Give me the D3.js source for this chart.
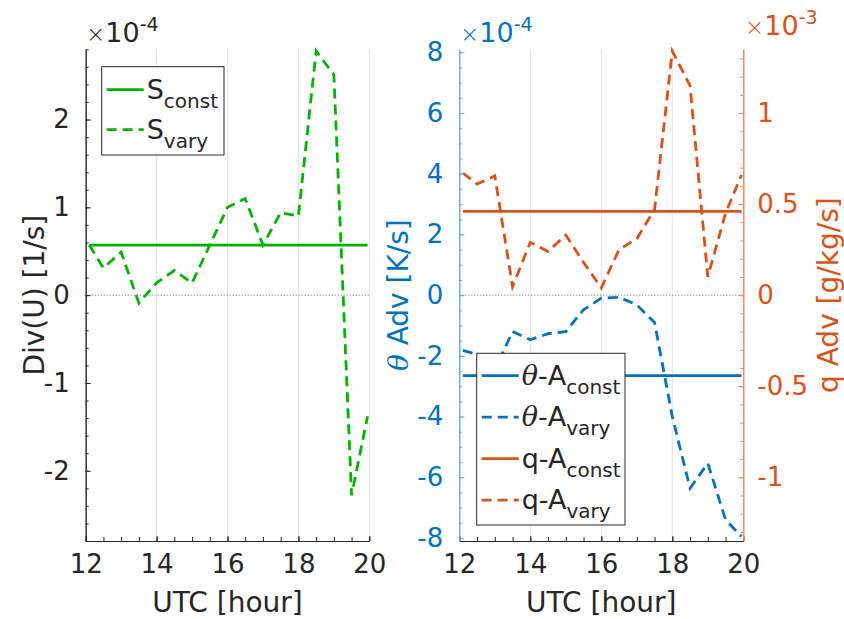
<!DOCTYPE html>
<html>
<head>
<meta charset="utf-8">
<script src="https://cdn.jsdelivr.net/npm/d3@7"></script>
<style>
  body { margin: 0; background: #fff; }
  text { font-family: "DejaVu Sans", sans-serif; }
</style>
</head>
<body>
<svg id="fig" width="844" height="619"></svg>
<script>
// Half-hourly samples (UTC hour)
const hours = [12.1, 12.5, 13, 13.5, 14, 14.5, 15, 15.5, 16, 16.5, 17, 17.5, 18, 18.5, 19, 19.5, 19.95];

// Divergence, units of 1e-4 1/s
const divVary = [0.57, 0.31, 0.49, -0.09, 0.14, 0.28, 0.14, 0.57, 1.0, 1.1, 0.57, 0.94, 0.9, 2.78, 2.51, -2.28, -1.38];
const divConst = 0.57;

// Potential-temperature advection, units of 1e-4 K/s
const thetaVary = [-1.82, -1.95, -2.45, -1.2, -1.47, -1.27, -1.2, -0.48, -0.1, -0.07, -0.32, -0.9, -4.0, -6.36, -5.54, -7.4, -7.95];
const thetaConst = -2.65;

// Moisture advection, units of 1e-3 g/kg/s
const qVary = [0.67, 0.61, 0.655, 0.047, 0.29, 0.24, 0.33, 0.18, 0.04, 0.25, 0.31, 0.47, 1.34, 1.15, 0.10, 0.45, 0.66];
const qConst = 0.46;

// Tick labels
const hourTicks = [12, 14, 16, 18, 20];
const divTicks = [-2, -1, 0, 1, 2];
const thetaTicks = [-8, -6, -4, -2, 0, 2, 4, 6, 8];
const qTicks = [-1, -0.5, 0, 0.5, 1];

const C_AX = "#262626", C_GREEN = "#00b300", C_BLUE = "#0072BD", C_ORANGE = "#D95319", C_GRID = "#e3e3e3";
const FS_TICK = 26, FS_LABEL = 28, FS_LEG = 27, FS_SUB = 20;
const DASH = "10,6";

const svg = d3.select("#fig");
const plotTop = 49.3, plotBottom = 541;

const panels = {
  left: { x0: 85.7, x1: 369.3 },
  right: { x0: 459.3, x1: 743.3 }
};

const xL = d3.scaleLinear().domain([12, 20]).range([panels.left.x0, panels.left.x1]);
const xR = d3.scaleLinear().domain([12, 20]).range([panels.right.x0, panels.right.x1]);
const yDiv = d3.scaleLinear().domain([-2.8, 2.8]).range([plotBottom, plotTop]);
const yTheta = d3.scaleLinear().domain([-8.1, 8.1]).range([plotBottom, plotTop]);
const yQ = d3.scaleLinear().domain([-1.35, 1.35]).range([plotBottom, plotTop]);

const fmt = d => (d < 0 ? "-" : "") + String(Math.abs(d));

function grid(x) {
  svg.append("g").selectAll("line").data([14, 16, 18, 20]).join("line")
    .attr("x1", d => x(d)).attr("x2", d => x(d))
    .attr("y1", plotTop).attr("y2", plotBottom)
    .attr("stroke", C_GRID).attr("stroke-width", 1);
}

function zeroLine(x, y) {
  svg.append("line")
    .attr("x1", x.range()[0]).attr("x2", x.range()[1])
    .attr("y1", y(0)).attr("y2", y(0))
    .attr("stroke", "#555").attr("stroke-width", 0.9).attr("stroke-dasharray", "1,2");
}

function styleAxis(g, color, tickColor) {
  g.select(".domain").attr("stroke", color).attr("stroke-width", 1);
  g.selectAll(".tick line").attr("stroke", color);
  g.selectAll(".tick text").attr("fill", tickColor).attr("font-size", FS_TICK)
    .attr("font-family", "DejaVu Sans");
}

function xAxis(x) {
  const minor = svg.append("g").attr("transform", `translate(0,${plotBottom})`)
    .call(d3.axisBottom(x).tickValues(d3.range(12, 20.01, 0.5)).tickFormat("").tickSizeInner(-4).tickSizeOuter(0));
  styleAxis(minor, C_AX, C_AX);
  const major = svg.append("g").attr("transform", `translate(0,${plotBottom})`)
    .call(d3.axisBottom(x).tickValues(hourTicks).tickFormat(d3.format("d")).tickSizeInner(-5).tickSizeOuter(0).tickPadding(14));
  styleAxis(major, C_AX, C_AX);
  major.selectAll(".tick text").attr("dy", "0.71em");
}

function yAxisLeft(xpos, y, ticks, minorStep, color, tickColor) {
  const [lo, hi] = y.domain();
  const mt = d3.range(Math.ceil(lo / minorStep - 1e-9) * minorStep, hi + 1e-9, minorStep);
  const minor = svg.append("g").attr("transform", `translate(${xpos},0)`)
    .call(d3.axisLeft(y).tickValues(mt).tickFormat("").tickSizeInner(-3).tickSizeOuter(0));
  styleAxis(minor, color, tickColor);
  const major = svg.append("g").attr("transform", `translate(${xpos},0)`)
    .call(d3.axisLeft(y).tickValues(ticks).tickFormat(fmt).tickSizeInner(-5).tickSizeOuter(0).tickPadding(16));
  styleAxis(major, color, tickColor);
}

function yAxisRight(xpos, y, ticks, minorStep, color, tickColor) {
  const [lo, hi] = y.domain();
  const mt = d3.range(Math.ceil(lo / minorStep - 1e-9) * minorStep, hi + 1e-9, minorStep);
  const minor = svg.append("g").attr("transform", `translate(${xpos},0)`)
    .call(d3.axisRight(y).tickValues(mt).tickFormat("").tickSizeInner(-3).tickSizeOuter(0));
  styleAxis(minor, color, tickColor);
  const major = svg.append("g").attr("transform", `translate(${xpos},0)`)
    .call(d3.axisRight(y).tickValues(ticks).tickFormat(fmt).tickSizeInner(-5).tickSizeOuter(0).tickPadding(14));
  styleAxis(major, color, tickColor);
}

function series(x, y, values, color, dashed) {
  const line = d3.line().x((d, i) => x(hours[i])).y(d => y(d));
  svg.append("path").datum(values)
    .attr("d", line).attr("fill", "none")
    .attr("stroke", color).attr("stroke-width", 2.8)
    .attr("stroke-dasharray", dashed ? DASH : null);
}

function exponent(xpos, ybase, power, color) {
  const t = svg.append("text").attr("x", xpos).attr("y", ybase).attr("fill", color).attr("font-size", 27);
  t.append("tspan").text("×").attr("font-weight", "lighter").attr("font-size", 23);
  t.append("tspan").text("10");
  t.append("tspan").text(power).attr("font-size", 19).attr("dy", -11);
}

function yLabel(xpos, ycenter, parts, color) {
  const t = svg.append("text")
    .attr("transform", `translate(${xpos},${ycenter}) rotate(-90)`)
    .attr("text-anchor", "middle").attr("fill", color).attr("font-size", FS_LABEL);
  parts.forEach(p => {
    const s = t.append("tspan").text(p.t);
    if (p.italic) s.attr("font-style", "italic").attr("font-family", "DejaVu Serif");
  });
}

function xLabel(x) {
  const [a, b] = x.range();
  svg.append("text").attr("x", (a + b) / 2).attr("y", 612)
    .attr("text-anchor", "middle").attr("fill", C_AX).attr("font-size", FS_LABEL)
    .text("UTC [hour]");
}

function legend(box, entries) {
  svg.append("rect").attr("x", box.x).attr("y", box.y).attr("width", box.w).attr("height", box.h)
    .attr("fill", "#fff").attr("stroke", C_AX).attr("stroke-width", 1);
  entries.forEach((e, i) => {
    const cy = box.y + box.first + i * box.step;
    svg.append("line")
      .attr("x1", box.x + 5).attr("x2", box.x + 42).attr("y1", cy).attr("y2", cy)
      .attr("stroke", e.color).attr("stroke-width", 2.8)
      .attr("stroke-dasharray", e.dashed ? DASH : null);
    const t = svg.append("text").attr("x", box.x + box.textX).attr("y", cy + 9)
      .attr("fill", C_AX).attr("font-size", FS_LEG);
    if (e.theta) t.append("tspan").text("θ").attr("font-style", "italic").attr("font-family", "DejaVu Serif");
    t.append("tspan").text(e.main);
    t.append("tspan").text(e.sub).attr("font-size", FS_SUB).attr("dy", 9);
  });
}

// ---------- Left panel: divergence ----------
grid(xL);
zeroLine(xL, yDiv);
series(xL, yDiv, hours.map(() => divConst), C_GREEN, false);
series(xL, yDiv, divVary, C_GREEN, true);
xAxis(xL);
yAxisLeft(panels.left.x0, yDiv, divTicks, 0.2, C_AX, C_AX);
exponent(86, 42, "-4", C_AX);
yLabel(44, (plotTop + plotBottom) / 2, [{ t: "Div(U) [1/s]" }], C_AX);
xLabel(xL);
legend({ x: 101.7, y: 66.7, w: 122.3, h: 88.3, first: 23, step: 40, textX: 45 }, [
  { color: C_GREEN, dashed: false, main: "S", sub: "const" },
  { color: C_GREEN, dashed: true, main: "S", sub: "vary" }
]);

// ---------- Right panel: advection (two y-axes) ----------
grid(xR);
zeroLine(xR, yTheta);
series(xR, yTheta, hours.map(() => thetaConst), C_BLUE, false);
series(xR, yTheta, thetaVary, C_BLUE, true);
series(xR, yQ, hours.map(() => qConst), C_ORANGE, false);
series(xR, yQ, qVary, C_ORANGE, true);
xAxis(xR);
yAxisLeft(panels.right.x0, yTheta, thetaTicks, 0.5, "#6aa8d8", C_BLUE);
yAxisRight(panels.right.x1, yQ, qTicks, 0.1, "#e58a63", C_ORANGE);
exponent(460, 42, "-4", C_BLUE);
exponent(745, 35, "-3", C_ORANGE);
yLabel(408, (plotTop + plotBottom) / 2, [{ t: "θ", italic: true }, { t: " Adv [K/s]" }], C_BLUE);
yLabel(838, (plotTop + plotBottom) / 2, [{ t: "q Adv [g/kg/s]" }], C_ORANGE);
xLabel(xR);
legend({ x: 476.7, y: 353.3, w: 148.3, h: 171.7, first: 22.4, step: 41.5, textX: 45 }, [
  { color: C_BLUE, dashed: false, theta: true, main: "-A", sub: "const" },
  { color: C_BLUE, dashed: true, theta: true, main: "-A", sub: "vary" },
  { color: C_ORANGE, dashed: false, main: "q-A", sub: "const" },
  { color: C_ORANGE, dashed: true, main: "q-A", sub: "vary" }
]);
</script>
</body>
</html>
